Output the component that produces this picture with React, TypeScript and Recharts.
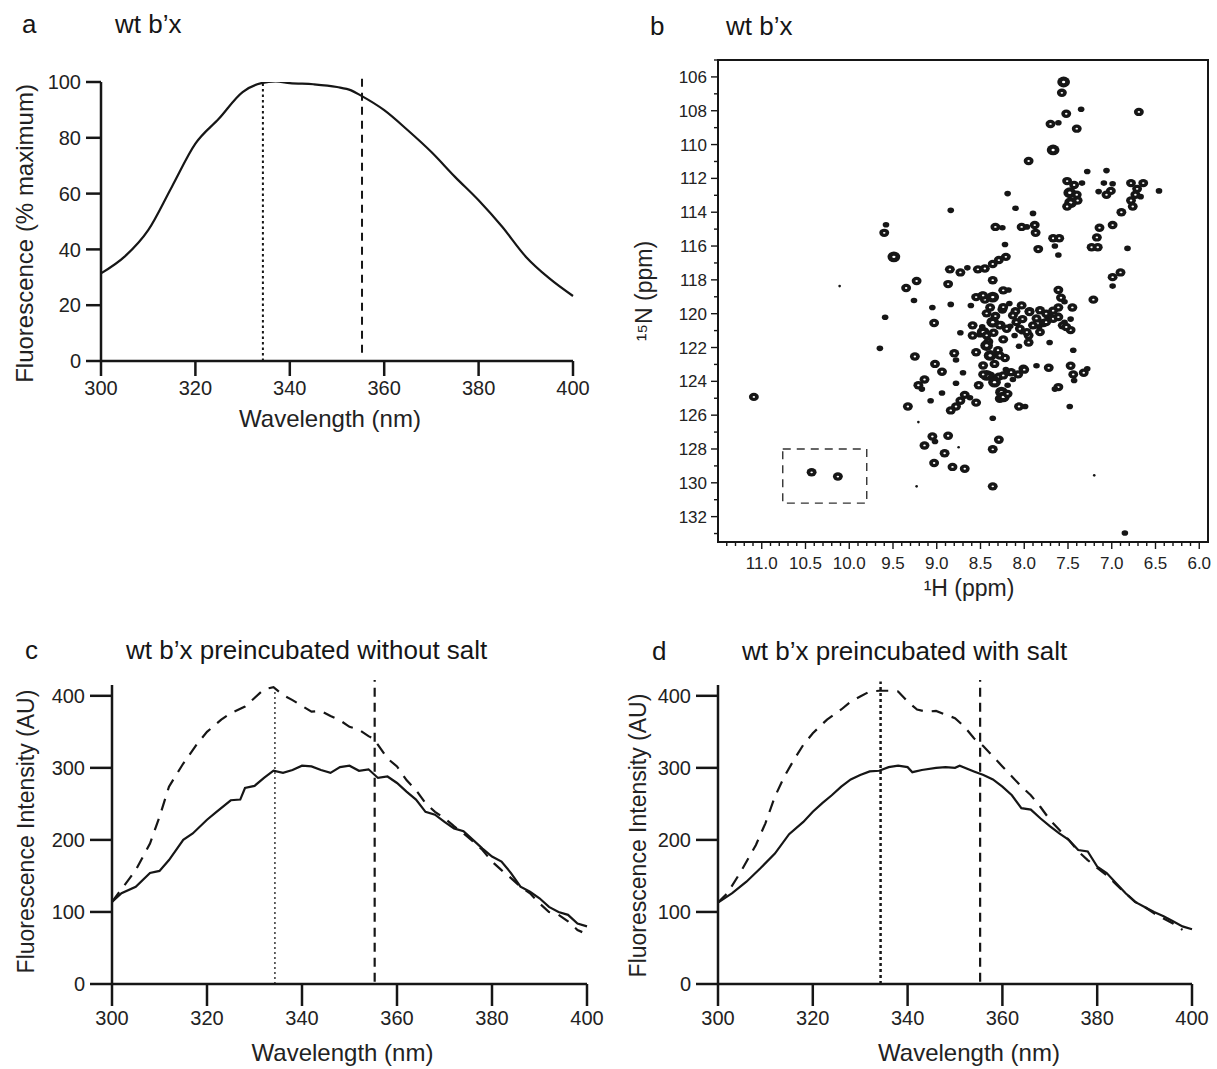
import React from 'react';
import {
  LineChart, Line, XAxis, YAxis, ReferenceLine, ReferenceArea,
  ScatterChart, Scatter,
} from 'recharts';

// ---- panel a: normalised emission spectrum ----
const wlA = [300, 305, 310, 315, 320, 325, 330, 334, 337, 340, 345, 350, 353, 355, 360, 365, 370, 375, 380, 385, 390, 395, 400];
const fluorA = [31.4, 37.4, 46.9, 62.4, 77.9, 86.9, 96.4, 99.6, 100.2, 99.6, 99.2, 98.2, 97, 95.2, 89.9, 82.7, 74.9, 66, 57.6, 48.1, 37.4, 29.6, 23.3];
const pctTicks = [0, 20, 40, 60, 80, 100];
const wlTicks = [300, 320, 340, 360, 380, 400];

// ---- panel c: preincubated without salt ----
const wlCSolid = [300, 302, 305, 308, 310, 312, 315, 317, 320, 322, 325, 327, 328, 330, 332, 334, 336, 338, 340, 342, 344, 346, 348, 350, 352, 354, 356, 358, 360, 362, 364, 366, 368, 370, 372, 374, 376, 378, 380, 382, 384, 386, 388, 390, 392, 394, 396, 398, 400];
const intCSolid = [114, 126, 135, 154, 157, 172, 200, 209, 228, 239, 255, 256, 272, 275, 286, 296, 293, 297, 303, 302, 297, 293, 301, 303, 296, 298, 286, 288, 279, 267, 256, 239, 235, 225, 216, 212, 200, 188, 177, 170, 154, 135, 128, 119, 107, 100, 96, 84, 80];
const wlCDash = [300, 305, 308, 310, 312, 315, 318, 320, 323, 325, 328, 330, 332, 334, 336, 338, 340, 342, 344, 346, 348, 350, 352, 354, 355, 356, 358, 360, 362, 364, 366, 368, 370, 372, 374, 376, 378, 380, 382, 384, 386, 388, 390, 392, 394, 396, 398, 399];
const intCDash = [114, 158, 195, 232, 274, 306, 334, 350, 367, 376, 385, 397, 409, 412, 401, 394, 386, 378, 379, 372, 366, 357, 353, 344, 341, 332, 313, 302, 283, 269, 251, 239, 230, 219, 209, 198, 186, 170, 158, 147, 135, 126, 112, 100, 96, 87, 75, 72];

// ---- panel d: preincubated with salt ----
const wlDSolid = [300, 303, 306, 309, 312, 315, 318, 320, 322, 324, 326, 328, 330, 332, 334, 336, 338, 340, 341, 343, 346, 348, 350, 351, 354, 356, 358, 360, 362, 364, 366, 368, 370, 372, 374, 376, 378, 380, 382, 384, 386, 388, 390, 392, 394, 396, 398, 400];
const intDSolid = [113, 126, 142, 161, 181, 208, 225, 239, 251, 262, 274, 284, 290, 295, 296, 301, 303, 301, 294, 297, 300, 301, 300, 303, 295, 290, 284, 274, 262, 244, 242, 230, 219, 209, 200, 186, 184, 163, 154, 140, 126, 114, 107, 100, 94, 87, 80, 76];
const wlDDash = [300, 302, 305, 308, 310, 312, 314, 316, 318, 320, 323, 326, 328, 330, 332, 334, 336, 338, 340, 342, 344, 346, 348, 350, 352, 354, 356, 358, 360, 362, 364, 366, 368, 370, 372, 374, 376, 378, 380, 382, 384, 386, 388, 390, 392, 394, 396, 398];
const intDDash = [113, 126, 158, 193, 223, 260, 288, 311, 332, 348, 367, 381, 392, 399, 406, 407, 407, 406, 392, 381, 378, 379, 374, 369, 357, 341, 330, 316, 302, 288, 274, 262, 246, 228, 214, 200, 184, 172, 161, 151, 138, 126, 114, 107, 98, 91, 84, 75];
const auTicks = [0, 100, 200, 300, 400];

// emission maxima markers (nm)
const lambdaFolded = 334.3;
const lambdaUnfolded = 355.3;

// ---- panel b: 1H-15N HSQC peaks [1H ppm, 15N ppm, contour level] ----
const peaksTop = [
  [7.55, 106.3, 3], [7.57, 106.94, 2], [7.52, 108.18, 2], [7.35, 107.91, 1], [7.7, 108.78, 2], [7.61, 108.71, 1],
  [7.4, 109.06, 2], [7.67, 110.32, 3], [7.95, 110.97, 2], [6.69, 108.07, 2], [7.28, 111.59, 1], [7.06, 111.54, 1],
  [7.51, 112.16, 2], [7.43, 112.39, 2], [7.48, 112.85, 3], [7.4, 112.97, 2], [7.47, 113.43, 3], [7.51, 113.66, 2],
  [7.34, 112.28, 1], [7.39, 113.31, 2], [7.09, 112.28, 1], [7.01, 112.74, 2], [7.06, 112.97, 2], [7.15, 112.78, 1],
  [6.99, 112.32, 1], [6.78, 112.28, 2], [6.71, 112.62, 2], [6.64, 112.28, 2], [6.73, 112.97, 2], [6.78, 113.31, 2],
  [6.67, 113.08, 1], [6.76, 113.66, 2], [6.46, 112.74, 1], [6.89, 114.0, 2],
];
const peaksMiddle = [
  [6.99, 114.76, 2], [7.14, 114.92, 2], [7.17, 115.49, 2], [7.23, 116.07, 2], [7.16, 116.07, 2], [6.82, 116.14, 1],
  [6.9, 117.56, 2], [6.99, 117.84, 2], [6.99, 118.37, 1], [7.21, 119.17, 2], [7.45, 119.63, 2], [7.61, 118.6, 2],
  [7.58, 119.06, 2], [7.61, 119.63, 2], [7.54, 119.29, 1], [7.67, 115.54, 2], [7.6, 115.54, 2], [7.65, 116.0, 1],
  [7.61, 116.53, 1], [7.84, 116.18, 2], [7.87, 115.22, 2], [7.88, 114.76, 2], [8.03, 114.87, 2], [7.97, 114.87, 1],
  [8.1, 113.77, 1], [7.9, 114.07, 1], [8.19, 112.9, 1], [8.84, 113.89, 1], [8.33, 114.87, 2], [8.25, 114.92, 1],
  [8.22, 115.91, 1], [8.21, 116.64, 2], [8.29, 116.83, 2], [8.36, 117.06, 2], [8.45, 117.33, 2], [8.53, 117.38, 2],
  [8.65, 117.29, 1], [8.73, 117.56, 2], [8.85, 117.38, 2], [8.87, 118.25, 2], [8.36, 118.02, 2], [8.18, 118.6, 1],
  [8.48, 118.94, 2], [8.61, 119.52, 1], [8.84, 119.45, 1], [9.05, 119.63, 1], [9.03, 120.55, 2], [9.23, 118.07, 2],
  [9.35, 118.48, 2], [9.26, 119.22, 1], [9.49, 116.64, 3], [9.6, 115.22, 2], [9.58, 114.74, 1], [9.59, 120.21, 1],
  [9.65, 122.05, 1],
];
const peaksCore = [
  [9.25, 122.53, 2], [9.02, 122.97, 2], [8.94, 123.43, 2], [8.8, 122.34, 2], [8.78, 122.74, 1], [8.73, 121.13, 1],
  [8.59, 121.29, 2], [8.7, 123.49, 1], [8.55, 122.28, 2], [8.51, 121.24, 1], [8.45, 119.17, 2], [8.39, 119.63, 2],
  [8.33, 120.14, 2], [8.27, 120.67, 2], [8.35, 121.13, 2], [8.24, 121.52, 2], [8.41, 121.66, 2], [8.3, 122.16, 2],
  [8.17, 119.4, 1], [8.1, 119.86, 2], [8.02, 120.32, 2], [7.94, 119.86, 2], [7.86, 120.28, 2], [7.78, 120.55, 2],
  [7.72, 120.14, 2], [7.67, 119.82, 2], [7.61, 120.09, 1], [7.54, 120.51, 1], [7.47, 120.32, 1], [7.47, 120.97, 2],
  [8.03, 121.06, 1], [8.11, 121.29, 1], [8.16, 120.74, 1], [7.95, 121.29, 2], [7.83, 120.78, 1], [8.25, 119.75, 2],
  [8.43, 119.98, 2], [8.36, 120.55, 2], [8.48, 120.78, 1], [8.22, 122.62, 2], [8.34, 122.97, 2], [8.39, 123.66, 2],
  [8.29, 123.72, 2], [8.06, 121.93, 1], [7.95, 121.7, 2], [7.71, 121.7, 1], [7.44, 122.16, 1],
];
const peaksCrowded = [
  [8.55, 119.02, 2], [8.47, 118.92, 2], [8.36, 119.02, 3], [8.24, 118.62, 2], [8.24, 119.61, 2], [8.13, 120.1, 2],
  [8.03, 119.51, 2], [7.94, 119.9, 2], [7.82, 119.8, 2], [7.75, 120.0, 2], [7.67, 120.3, 2], [7.61, 120.2, 2],
  [7.56, 120.69, 2], [7.52, 120.79, 2], [8.59, 120.69, 2], [8.47, 121.09, 3], [8.43, 121.28, 2], [8.36, 120.5, 3],
  [8.28, 120.69, 2], [8.2, 120.89, 2], [8.09, 120.5, 2], [8.05, 120.89, 2], [7.97, 121.09, 2], [7.9, 120.69, 2],
  [7.82, 121.09, 2], [7.75, 120.5, 2], [8.43, 121.88, 3], [8.39, 122.47, 3], [8.28, 122.47, 2], [8.47, 123.06, 2],
  [8.43, 123.65, 3], [8.24, 123.65, 2], [8.15, 123.46, 2], [8.01, 123.25, 2], [8.34, 124.05, 3], [8.26, 124.64, 3],
  [8.28, 125.03, 2],
];
const peaksLower = [
  [7.47, 123.08, 2], [7.44, 123.59, 2], [7.43, 123.95, 1], [7.32, 123.49, 2], [7.28, 123.26, 1], [7.72, 123.2, 2],
  [7.86, 123.08, 1], [8.0, 123.31, 2], [8.07, 123.59, 2], [8.13, 123.89, 1], [8.21, 123.31, 1], [8.52, 124.23, 2],
  [8.47, 123.59, 2], [8.19, 124.23, 1], [8.24, 124.92, 3], [8.19, 124.74, 2], [8.06, 125.49, 2], [7.99, 125.49, 1],
  [7.61, 124.34, 2], [7.65, 124.46, 1], [7.48, 125.49, 1], [8.68, 124.8, 2], [8.62, 124.97, 1], [8.73, 125.15, 2],
  [8.78, 125.49, 2], [8.84, 125.72, 2], [8.55, 125.26, 2], [8.36, 126.18, 1], [8.36, 128.02, 2], [8.29, 127.45, 2],
  [8.36, 130.21, 2], [9.21, 124.23, 2], [9.14, 123.89, 2], [9.17, 124.46, 1], [9.07, 125.15, 1], [8.94, 124.69, 1],
  [8.78, 124.11, 1], [9.33, 125.49, 2], [9.21, 126.41, 0], [9.05, 127.26, 2], [9.02, 127.56, 1], [8.87, 127.22, 2],
  [9.14, 127.79, 2], [8.91, 128.25, 2], [9.03, 128.83, 2], [8.82, 129.06, 2], [8.68, 129.17, 2], [8.75, 127.9, 0],
];
const peaksOutlying = [
  [11.09, 124.92, 2], [10.11, 118.37, 0], [10.43, 129.38, 2], [10.13, 129.63, 2], [9.23, 130.21, 0],
  [7.2, 129.56, 0], [6.85, 132.97, 1],
];
// dashed box around the two downfield peaks
const boxH = [10.76, 9.8];
const boxN = [128.0, 131.2];

const hLabels = [11.0, 10.5, 10.0, 9.5, 9.0, 8.5, 8.0, 7.5, 7.0, 6.5, 6.0];
const nLabels = [106, 108, 110, 112, 114, 116, 118, 120, 122, 124, 126, 128, 130, 132];
const hTicks = Array.from({ length: 55 }, (_, i) => Math.round((6.0 + i * 0.1) * 10) / 10);
const nTicks = Array.from({ length: 29 }, (_, i) => 105 + i);

const FONT = '"Liberation Sans", Arial, Helvetica, sans-serif';
const INK = '#161616';

const toRows = (xs: number[], ys: number[]) => xs.map((x, i) => ({ wl: x, v: ys[i] }));
const toPeaks = (list: number[][]) => list.map(([h, n, l]) => ({ h, n, l }));
const allPeaks = [
  ...toPeaks(peaksTop), ...toPeaks(peaksMiddle), ...toPeaks(peaksCore), ...toPeaks(peaksCrowded),
  ...toPeaks(peaksLower), ...toPeaks(peaksOutlying),
];

function Title({ letter, text, lx, tx, cy }: { letter: string; text: string; lx: number; tx: number; cy: number }) {
  const st: React.CSSProperties = { position: 'absolute', top: cy - 14, fontSize: 26, lineHeight: '28px', color: INK, whiteSpace: 'nowrap' };
  return (
    <>
      <div style={{ ...st, left: lx }}>{letter}</div>
      <div style={{ ...st, left: tx }}>{text}</div>
    </>
  );
}

function PeakShape(props: any) {
  const { cx, cy, payload } = props;
  const l = payload.l;
  if (l === 0) return <circle cx={cx} cy={cy} r={1.3} fill={INK} />;
  const r = l === 1 ? 2.8 : l === 2 ? 4.2 : 5.4;
  return (
    <g>
      <ellipse cx={cx} cy={cy} rx={r * 1.18} ry={r} fill={INK} />
      {l > 1 && <ellipse cx={cx} cy={cy} rx={r * 0.3} ry={r * 0.22} fill="#fff" />}
    </g>
  );
}

function HTick(props: any) {
  const { x, y, payload } = props;
  const v = payload.value;
  const major = hLabels.some((h) => Math.abs(h - v) < 1e-6);
  return (
    <g>
      <line x1={x} x2={x} y1={y} y2={y + (major ? 7 : 4)} stroke={INK} strokeWidth={1.4} />
      {major && (
        <text x={x} y={y + 27} textAnchor="middle" fontSize={17} fill="#222" fontFamily={FONT}>{v.toFixed(1)}</text>
      )}
    </g>
  );
}

function NTick(props: any) {
  const { x, y, payload } = props;
  const v = payload.value;
  const major = nLabels.includes(v);
  return (
    <g>
      <line x1={x} x2={x - (major ? 7 : 4)} y1={y} y2={y} stroke={INK} strokeWidth={1.4} />
      {major && (
        <text x={x - 11} y={y + 6} textAnchor="end" fontSize={17} fill="#222" fontFamily={FONT}>{v}</text>
      )}
    </g>
  );
}

const axisStroke = { stroke: INK, strokeWidth: 2.5 };
const tickStyle = { fill: '#222', fontSize: 20, fontFamily: FONT };
const labelStyle = { fill: '#222', fontSize: 24, fontFamily: FONT };

function SpectrumPanel(props: {
  left: number; top: number; width: number; height: number; margin: any; yWidth: number; xHeight: number;
  solid: any[]; dashed?: any[]; yDomain: number[]; yTicks: number[]; yLabel: string; yFont: number;
  yLab: number[]; xLab: number[]; tickLen: number; dotted: any; dashedMark: any;
}) {
  const p = props;
  return (
    <div style={{ position: 'absolute', left: p.left, top: p.top }}>
      <LineChart width={p.width} height={p.height} margin={p.margin}>
        <XAxis
          type="number" dataKey="wl" domain={[300, 400]} ticks={wlTicks} interval={0}
          axisLine={axisStroke} tickLine={axisStroke} tickSize={p.tickLen} tickMargin={5}
          tick={tickStyle} height={p.xHeight}
          label={{ value: 'Wavelength (nm)', position: 'center', dx: p.xLab[0], dy: p.xLab[1], style: labelStyle }}
        />
        <YAxis
          type="number" dataKey="v" domain={p.yDomain} ticks={p.yTicks} interval={0} allowDataOverflow
          axisLine={axisStroke} tickLine={axisStroke} tickSize={p.tickLen} tickMargin={5}
          tick={tickStyle} width={p.yWidth}
          label={{ value: p.yLabel, angle: -90, position: 'center', dx: p.yLab[0], dy: p.yLab[1], style: { ...labelStyle, fontSize: p.yFont } }}
        />
        <ReferenceLine segment={p.dotted.seg} ifOverflow="visible" stroke={INK}
          strokeWidth={p.dotted.w} strokeDasharray={p.dotted.dash} />
        <ReferenceLine segment={p.dashedMark.seg} ifOverflow="visible" stroke={INK}
          strokeWidth={p.dashedMark.w} strokeDasharray={p.dashedMark.dash} />
        {p.dashed && (
          <Line data={p.dashed} dataKey="v" type="linear" stroke={INK} strokeWidth={2.2}
            strokeDasharray="12 9" dot={false} isAnimationActive={false} />
        )}
        <Line data={p.solid} dataKey="v" type={p.dashed ? 'linear' : 'monotone'} stroke={INK} strokeWidth={2.2}
          dot={false} isAnimationActive={false} />
      </LineChart>
    </div>
  );
}

export default function App() {
  return (
    <div style={{ position: 'absolute', left: 0, top: 0, width: 1217, height: 1069, background: '#fff', fontFamily: FONT, overflow: 'hidden' }}>
      <Title letter="a" text="wt b’x" lx={22} tx={115} cy={24} />
      <Title letter="b" text="wt b’x" lx={650} tx={726} cy={26} />
      <Title letter="c" text="wt b’x preincubated without salt" lx={25} tx={126} cy={650} />
      <Title letter="d" text="wt b’x preincubated with salt" lx={652} tx={742} cy={651} />

      <SpectrumPanel
        left={0} top={60} width={600} height={390}
        margin={{ top: 22, right: 27, bottom: 29, left: 0 }} yWidth={101} xHeight={60}
        solid={toRows(wlA, fluorA)} yDomain={[0, 100]} yTicks={pctTicks}
        yLabel="Fluorescence (% maximum)" yFont={24} yLab={[-26, 12]} xLab={[-7, 27]} tickLen={15}
        dotted={{ seg: [{ x: lambdaFolded, y: 0 }, { x: lambdaFolded, y: 100.5 }], w: 2, dash: '2.5 3' }}
        dashedMark={{ seg: [{ x: lambdaUnfolded, y: 3 }, { x: lambdaUnfolded, y: 103.3 }], w: 2, dash: '8 6' }}
      />

      <div style={{ position: 'absolute', left: 600, top: 0 }}>
        <ScatterChart width={617} height={620} margin={{ top: 60, right: 9, bottom: 0, left: 0 }}>
          <XAxis
            type="number" dataKey="h" domain={[5.9, 11.5]} reversed ticks={hTicks} interval={0} allowDataOverflow
            axisLine={{ stroke: INK, strokeWidth: 2 }} tickLine={false} tickSize={0} tickMargin={0}
            tick={<HTick />} height={78}
            label={{ value: '¹H (ppm)', position: 'center', dx: 6, dy: 7, style: { ...labelStyle, fontSize: 23 } }}
          />
          <YAxis
            type="number" dataKey="n" domain={[105, 133.5]} reversed ticks={nTicks} interval={0} allowDataOverflow
            axisLine={{ stroke: INK, strokeWidth: 2 }} tickLine={false} tickSize={0} tickMargin={0}
            tick={<NTick />} width={118}
            label={{ value: '¹⁵N (ppm)', angle: -90, position: 'center', dx: -15, dy: -10, style: { ...labelStyle, fontSize: 23 } }}
          />
          <ReferenceArea x1={11.5} x2={5.9} y1={105} y2={133.5} fill="none" stroke={INK} strokeWidth={2} ifOverflow="visible" />
          <ReferenceArea x1={boxH[0]} x2={boxH[1]} y1={boxN[0]} y2={boxN[1]} fill="none" fillOpacity={0}
            stroke="#333" strokeWidth={1.4} strokeDasharray="8 6" />
          <Scatter data={allPeaks} shape={<PeakShape />} isAnimationActive={false} />
        </ScatterChart>
      </div>

      <SpectrumPanel
        left={0} top={640} width={610} height={429}
        margin={{ top: 45, right: 23, bottom: 0, left: 0 }} yWidth={112} xHeight={85}
        solid={toRows(wlCSolid, intCSolid)} dashed={toRows(wlCDash, intCDash)} yDomain={[0, 415]} yTicks={auTicks}
        yLabel="Fluorescence Intensity (AU)" yFont={23} yLab={[-30, -3]} xLab={[-7, 26]} tickLen={22}
        dotted={{ seg: [{ x: lambdaFolded, y: 0 }, { x: lambdaFolded, y: 408 }], w: 1.3, dash: '2 3' }}
        dashedMark={{ seg: [{ x: lambdaUnfolded, y: 3 }, { x: lambdaUnfolded, y: 422 }], w: 2.2, dash: '9 6' }}
      />

      <SpectrumPanel
        left={610} top={640} width={607} height={429}
        margin={{ top: 45, right: 25, bottom: 0, left: 0 }} yWidth={108} xHeight={85}
        solid={toRows(wlDSolid, intDSolid)} dashed={toRows(wlDDash, intDDash)} yDomain={[0, 415]} yTicks={auTicks}
        yLabel="Fluorescence Intensity (AU)" yFont={23} yLab={[-26, 1]} xLab={[14, 26]} tickLen={22}
        dotted={{ seg: [{ x: lambdaFolded, y: 0 }, { x: lambdaFolded, y: 420 }], w: 2.5, dash: '3 3' }}
        dashedMark={{ seg: [{ x: lambdaUnfolded, y: 3 }, { x: lambdaUnfolded, y: 422 }], w: 2.2, dash: '9 6' }}
      />
    </div>
  );
}
